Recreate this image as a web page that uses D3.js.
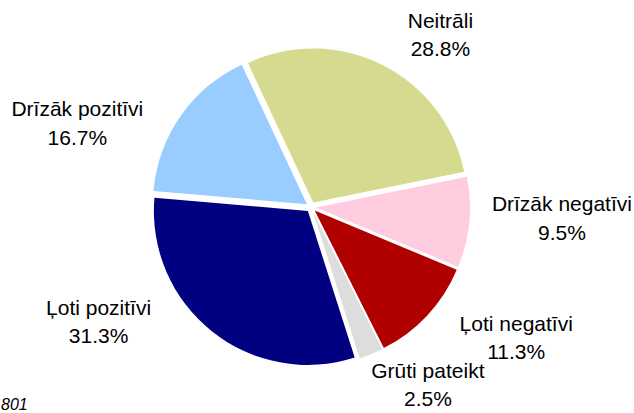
<!DOCTYPE html>
<html>
<head>
<meta charset="utf-8">
<script src="https://cdn.jsdelivr.net/npm/d3@7/dist/d3.min.js"></script>
<style>
  html, body { margin: 0; padding: 0; background: #fff; }
  svg { display: block; }
  text { font-family: "Liberation Sans", Arial, sans-serif; fill: #000; }
</style>
</head>
<body>
<div id="chart"></div>
<script>
// Survey answers, share of respondents (%)
const categories = ["Ļoti pozitīvi", "Drīzāk pozitīvi", "Neitrāli", "Drīzāk negatīvi", "Ļoti negatīvi", "Grūti pateikt"];
const values = [31.3, 16.7, 28.8, 9.5, 11.3, 2.5];
const valueLabels = ["31.3%", "16.7%", "28.8%", "9.5%", "11.3%", "2.5%"];
const colors = ["#000080", "#99ccff", "#d5da8e", "#ffcce0", "#b00000", "#dddddd"];
const footnote = "801";

const width = 634;
const height = 413;

// pie geometry
const cx = 311, cy = 207;
const radius = 154;
const explode = 5;
const labelRadius = 230;
const firstSliceAngle = 162.3 * Math.PI / 180;

// hand tweaks so the labels sit where the original put them
const labelNudge = {
    "Ļoti pozitīvi": [-69, -72],
    "Drīzāk pozitīvi": [-45, 41],
    "Neitrāli": [26, 26],
    "Drīzāk negatīvi": [22, -18],
    "Ļoti negatīvi": [37, -33],
    "Grūti pateikt": [30, -42]
};

const data = categories.map((c, i) => ({ name: c, value: values[i], label: valueLabels[i], color: colors[i] }));

const svg = d3.select("#chart")
    .append("svg")
    .attr("width", width)
    .attr("height", height);

const pie = d3.pie()
    .sort(null)
    .value(d => d.value)
    .startAngle(firstSliceAngle)
    .endAngle(firstSliceAngle + 2 * Math.PI);

const arc = d3.arc().innerRadius(0).outerRadius(radius);
const labelArc = d3.arc().innerRadius(labelRadius).outerRadius(labelRadius);

const arcs = pie(data);
const g = svg.append("g").attr("transform", `translate(${cx},${cy})`);

// slices, each pushed out a little along its middle angle
g.selectAll("path")
    .data(arcs)
    .enter()
    .append("path")
    .attr("d", arc)
    .attr("fill", d => d.data.color)
    .attr("transform", d => {
        const mid = (d.startAngle + d.endAngle) / 2;
        return `translate(${Math.sin(mid) * explode},${-Math.cos(mid) * explode})`;
    });

// two line labels: name and percent
const labels = g.selectAll("text.lbl")
    .data(arcs)
    .enter()
    .append("text")
    .attr("class", "lbl")
    .attr("text-anchor", "middle")
    .style("font-size", "21px")
    .attr("transform", d => {
        const [x, y] = labelArc.centroid(d);
        const [nx, ny] = labelNudge[d.data.name];
        return `translate(${x + nx},${y + ny})`;
    });

labels.append("tspan").attr("x", 0).attr("y", 0).text(d => d.data.name);
labels.append("tspan").attr("x", 0).attr("y", 28.5).text(d => d.data.label);

// sample size note, bottom-left corner
svg.append("text")
    .attr("x", 1)
    .attr("y", 410)
    .style("font-size", "16px")
    .style("font-style", "italic")
    .text(footnote);
</script>
</body>
</html>
